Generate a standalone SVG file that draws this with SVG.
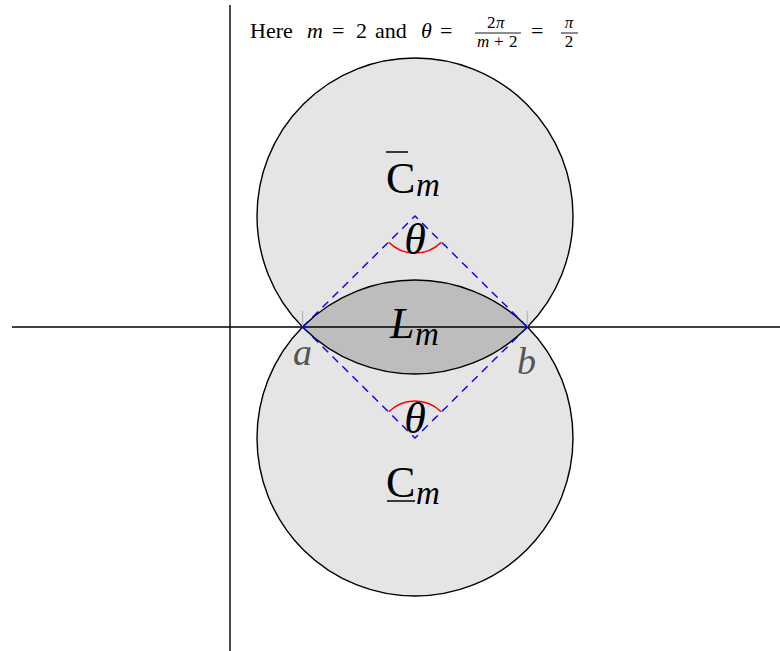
<svg xmlns="http://www.w3.org/2000/svg" width="780" height="651" viewBox="0 0 780 651">
  <style>
    .circ { fill: #e5e5e5; stroke: none; }
    .outline { fill: none; stroke: #000; stroke-width: 1.4; }
    .axis { stroke: #000; stroke-width: 1.4; }
    .dash { fill: none; stroke: #0000ff; stroke-width: 1.4; stroke-dasharray: 8 6; }
    .ang { fill: none; stroke: #ff0000; stroke-width: 1.6; }
    .tick { stroke: #bbbbbb; stroke-width: 1.4; }
    .t { font-family: "Liberation Serif", "DejaVu Serif", serif; fill: #000; }
    .it { font-style: italic; }
    .big { font-size: 44px; }
    .sub { font-size: 33px; font-style: italic; }
    .pt { font-size: 38px; font-style: italic; fill: #555555; }
    .title { font-size: 22px; }
    .small { font-size: 17px; }
  </style>
  <g id="upper-circle">
    <circle class="circ" cx="415" cy="216" r="158"/>
  </g>
  <g id="lower-circle">
    <circle class="circ" cx="415" cy="438" r="158"/>
  </g>
  <g id="lens">
    <path d="M302.6 327 A158 158 0 0 1 527.4 327 A158 158 0 0 1 302.6 327 Z" fill="#bdbdbd"/>
  </g>
  <g id="outlines">
    <circle class="outline" cx="415" cy="216" r="158"/>
    <circle class="outline" cx="415" cy="438" r="158"/>
  </g>
  <g id="axes">
    <line class="axis" x1="230" y1="5" x2="230" y2="651"/>
    <line class="axis" x1="12" y1="327" x2="780" y2="327"/>
  </g>
  <g id="connectors">
    <line class="tick" x1="302.6" y1="311" x2="302.6" y2="327"/>
    <line class="tick" x1="527.4" y1="311" x2="527.4" y2="327"/>
    <polyline class="dash" points="302.6,327 415,216 527.4,327"/>
    <polyline class="dash" points="302.6,327 415,438 527.4,327"/>
    <path class="ang" d="M388.8 242.2 A37 37 0 0 0 441.2 242.2"/>
    <path class="ang" d="M388.8 411.8 A37 37 0 0 1 441.2 411.8"/>
  </g>
  <g id="title">
    <text class="t title" y="38"><tspan x="250">Here</tspan><tspan x="307" class="it">m</tspan><tspan x="332">=</tspan><tspan x="356">2</tspan><tspan x="375">and</tspan><tspan x="421" class="it">θ</tspan><tspan x="440">=</tspan><tspan x="531">=</tspan></text>
    <text class="t small" y="28"><tspan x="487">2</tspan><tspan x="496" class="it">π</tspan></text>
    <line x1="475" y1="33" x2="521" y2="33" stroke="#000" stroke-width="0.9"/>
    <text class="t small" y="47"><tspan x="477" class="it">m</tspan><tspan x="494">+</tspan><tspan x="509">2</tspan></text>
    <text class="t small it" x="569" y="28" text-anchor="middle">π</text>
    <line x1="561" y1="33" x2="578" y2="33" stroke="#000" stroke-width="0.9"/>
    <text class="t small" x="569" y="47" text-anchor="middle">2</text>
  </g>
  <g id="label-Cbar">
    <text class="t big" x="386" y="193">C</text>
    <line x1="386" y1="152" x2="408" y2="152" stroke="#000" stroke-width="1.5"/>
    <text class="t sub" x="416" y="196">m</text>
  </g>
  <g id="label-Cunder">
    <text class="t big" x="386" y="497">C</text>
    <line x1="387" y1="501" x2="415" y2="501" stroke="#000" stroke-width="1.5"/>
    <text class="t sub" x="416" y="504">m</text>
  </g>
  <g id="label-L">
    <text class="t big it" x="390" y="338">L</text>
    <text class="t sub" x="415" y="345">m</text>
  </g>
  <g id="label-theta-top">
    <text class="t big it" x="415" y="254" text-anchor="middle">θ</text>
  </g>
  <g id="label-theta-bottom">
    <text class="t big it" x="415" y="433" text-anchor="middle">θ</text>
  </g>
  <g id="label-a">
    <text class="t pt" x="293" y="365">a</text>
  </g>
  <g id="label-b">
    <text class="t pt" x="517" y="374">b</text>
  </g>
</svg>
